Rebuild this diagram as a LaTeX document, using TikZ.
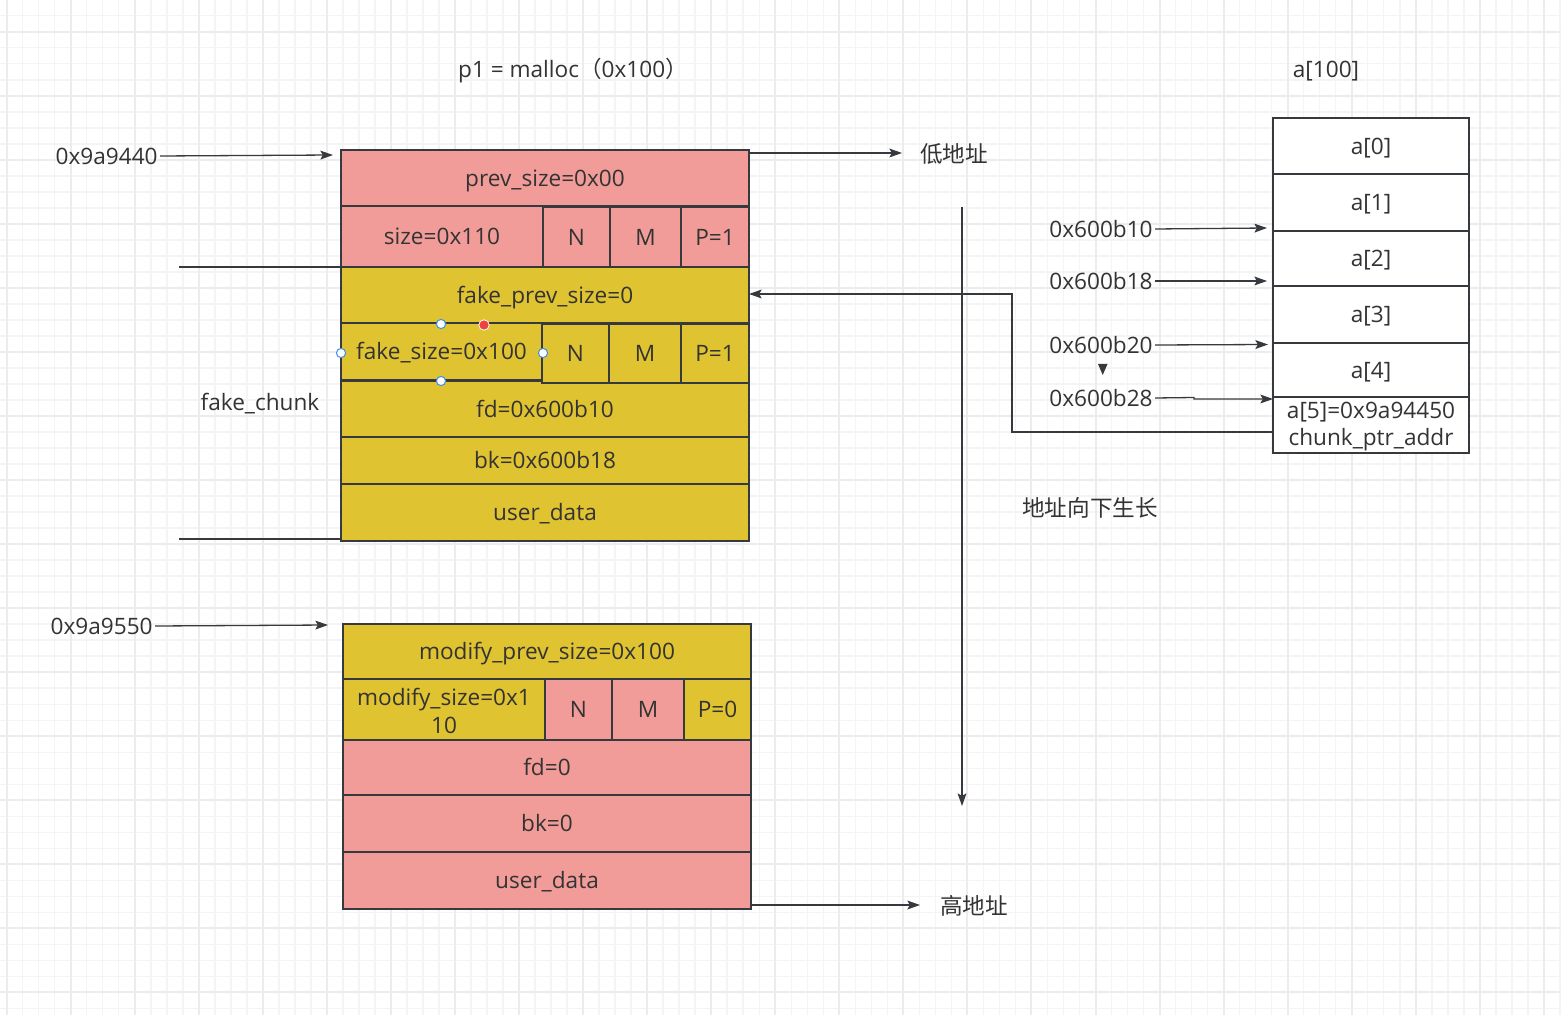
\documentclass[tikz,border=0pt]{standalone}
\usepackage{fontspec}
\setmainfont{Open Sans}
\newfontfamily\cjk{Noto Sans CJK SC}
\usetikzlibrary{arrows.meta,calc}
\definecolor{pinkc}{HTML}{F19C99}
\definecolor{yelc}{HTML}{E0C331}
\definecolor{linec}{HTML}{36393D}
\definecolor{txt}{HTML}{333333}
\definecolor{gridminor}{HTML}{F4F4F4}
\definecolor{gridmajor}{HTML}{ECECEC}
\definecolor{handleblue}{HTML}{3D8EF0}
\definecolor{handlered}{HTML}{F04040}
\begin{document}
\begin{tikzpicture}[x=0.5pt,y=-0.5pt,
 cellbase/.style={draw=linec,line width=0.65pt,inner sep=0pt,outer sep=0pt,text=txt,font=\fontsize{11.3}{14}\selectfont,anchor=center,align=center},
 cell/.style={cellbase,text height=0.95em,text depth=0.12em},
 pk/.style={cell,fill=pinkc},
 yl/.style={cell,fill=yelc},
 wt/.style={cell,fill=white},
 lbl/.style={text=txt,font=\fontsize{11.3}{14}\selectfont,inner sep=1pt},
 intext/.style={text=txt,inner sep=0pt,align=center},
 cjkl/.style={text=txt,font=\cjk\fontsize{11.3}{14}\selectfont,inner sep=1pt},
 arr/.style={draw=linec,line width=0.65pt,-{Stealth[length=6.3pt,width=4.4pt,inset=1.2pt]}},
 ln/.style={draw=linec,line width=0.65pt},
 handle/.style={draw=handleblue,fill=white,line width=0.5pt},
 minorg/.style={draw=gridminor,line width=0.75pt},
 majorg/.style={draw=gridmajor,line width=1pt},
]
\useasboundingbox (0,0) rectangle (1561,1015);
\fill[white] (0,0) rectangle (1561,1015);
% grid
\foreach \i in {0,...,97} {\draw[minorg] ({6.65+16.0125*\i},0) -- ({6.65+16.0125*\i},1015);}
\foreach \i in {0,...,63} {\draw[minorg] (0,{-0.3+16.0125*\i}) -- (1561,{-0.3+16.0125*\i});}
\foreach \i in {0,...,24} {\draw[majorg] ({6.65+64.05*\i},0) -- ({6.65+64.05*\i},1015);}
\foreach \i in {0,...,15} {\draw[majorg] (0,{31.7+64.05*\i}) -- (1561,{31.7+64.05*\i});}

% titles
\node[lbl] (title) at (573,71) {p1 = malloc{\cjk （}0x100{\cjk ）}};
\node[lbl] (atitle) at (1326,71) {a[100]};

% chunk 1
\node[pk,minimum width=204pt,minimum height=28pt] (prev) at (545,178) {prev\_size=0x00};
\node[pk,minimum width=101pt,minimum height=30.5pt] (size) at (442,236.5) {size=0x110};
\node[pk,minimum width=33.5pt,minimum height=30pt] (n1) at (576.5,237) {N};
\node[pk,minimum width=35.5pt,minimum height=30pt] (m1) at (645.5,237) {M};
\node[pk,minimum width=34pt,minimum height=30pt] (p1) at (715,237) {P=1};
\node[yl,minimum width=204pt,minimum height=28pt] (fakeprev) at (545,295) {fake\_prev\_size=0};
\node[yl,minimum width=204pt,minimum height=28pt] (fd) at (545,409) {fd=0x600b10};
\node[yl,minimum width=100.5pt,minimum height=28.5pt] (fakesize) at (441.5,351.5) {fake\_size=0x100};
\node[yl,minimum width=33.5pt,minimum height=29.5pt] (n2) at (575.5,353.5) {N};
\node[yl,minimum width=36pt,minimum height=29.5pt] (m2) at (645,353.5) {M};
\node[yl,minimum width=34pt,minimum height=29.5pt] (p2) at (715,353.5) {P=1};
\node[yl,minimum width=204pt,minimum height=23.5pt] (bk) at (545,460.5) {bk=0x600b18};
\node[yl,minimum width=204pt,minimum height=28.5pt] (user) at (545,512.5) {user\_data};

% selection handles
\draw[handle] (441,324) circle[radius=2.3pt];
\draw[handle] (341,353) circle[radius=2.3pt];
\draw[handle] (543,353) circle[radius=2.3pt];
\draw[handle] (441,381) circle[radius=2.3pt];
\draw[draw=white,fill=handlered,line width=0.4pt] (484,325) circle[radius=2.6pt];

% chunk 2
\node[yl,minimum width=204pt,minimum height=27.5pt] (mprev) at (547,651.5) {modify\_prev\_size=0x100};
\node[yl,minimum width=101pt,minimum height=30.5pt] (msize) at (444,709.5) {};
\node[intext,font=\fontsize{11.3}{14}\selectfont] (msizetext) at (444,711) {modify\_size=0x1\\10};
\node[pk,minimum width=33.5pt,minimum height=30.5pt] (n3) at (578.5,709.5) {N};
\node[pk,minimum width=36pt,minimum height=30.5pt] (m3) at (648,709.5) {M};
\node[yl,minimum width=33.5pt,minimum height=30.5pt] (p3) at (717.5,709.5) {P=0};
\node[pk,minimum width=204pt,minimum height=27.5pt] (fd2) at (547,767.5) {fd=0};
\node[pk,minimum width=204pt,minimum height=28.5pt] (bk2) at (547,823.5) {bk=0};
\node[pk,minimum width=204pt,minimum height=28.5pt] (user2) at (547,880.5) {user\_data};

% array
\node[wt,minimum width=98pt,minimum height=28pt] (a0) at (1371,146) {a[0]};
\node[wt,minimum width=98pt,minimum height=28.5pt] (a1) at (1371,202.5) {a[1]};
\node[wt,minimum width=98pt,minimum height=27.5pt] (a2) at (1371,258.5) {a[2]};
\node[wt,minimum width=98pt,minimum height=28.5pt] (a3) at (1371,314.5) {a[3]};
\node[wt,minimum width=98pt,minimum height=27pt] (a4) at (1371,370) {a[4]};
\node[wt,minimum width=98pt,minimum height=28pt] (a5) at (1371,425) {};
\node[intext,font=\fontsize{11.3}{13.5}\selectfont] (a5text) at (1371,427) {a[5]=0x9a94450\\chunk\_ptr\_addr};

% address labels and arrows
\node[lbl,anchor=east] (addr1) at (160,156) {0x9a9440};
\coordinate (t1) at (333,155);
\draw[arr] (addr1.east) -- (t1);
\node[lbl,anchor=east] (addr2) at (155,626) {0x9a9550};
\coordinate (t2) at (328,625);
\draw[arr] (addr2.east) -- (t2);

\node[lbl] (fakechunk) at (260,404) {fake\_chunk};
\draw[ln] (179,267) -- (fakeprev.north west);
\draw[ln] (179,539) -- (user.south west |- 0,539);

\node[cjkl] (low) at (954,154) {低地址};
\coordinate (lowtip) at (902,153);
\draw[arr] ($(prev.north east)+(0,3)$) -- (lowtip);
\node[cjkl] (high) at (974,906) {高地址};
\coordinate (hightip) at (920,905);
\draw[arr] ($(user2.south east)+(0,-4)$) -- (hightip);
\node[cjkl] (grow) at (1090,508) {地址向下生长};
\coordinate (vtop) at (962,207);
\coordinate (vbot) at (962,806);
\draw[arr] (vtop) -- (vbot);

\node[lbl,anchor=east] (b10) at (1155,229) {0x600b10};
\draw[arr] (b10.east) -- (1267,228);
\node[lbl,anchor=east] (b18) at (1155,281) {0x600b18};
\draw[arr] (b18.east) -- (1267,281);
\node[lbl,anchor=east] (b20) at (1155,345) {0x600b20};
\draw[arr] (b20.east) -- (1268,344.5);
\node[lbl,anchor=east] (b28) at (1155,398) {0x600b28};
\draw[arr] (b28.east) -- (1194,397.5) -- (1194,399) -- (a5.north west |- 0,399);
\fill[linec] (1098,364) -- (1107.5,364) -- (1102.7,375) -- cycle;

\draw[arr] (a5.west |- 0,432) -- (1012,432) -- (1012,294) -- (fakeprev.east |- 0,294);
\end{tikzpicture}
\end{document}
